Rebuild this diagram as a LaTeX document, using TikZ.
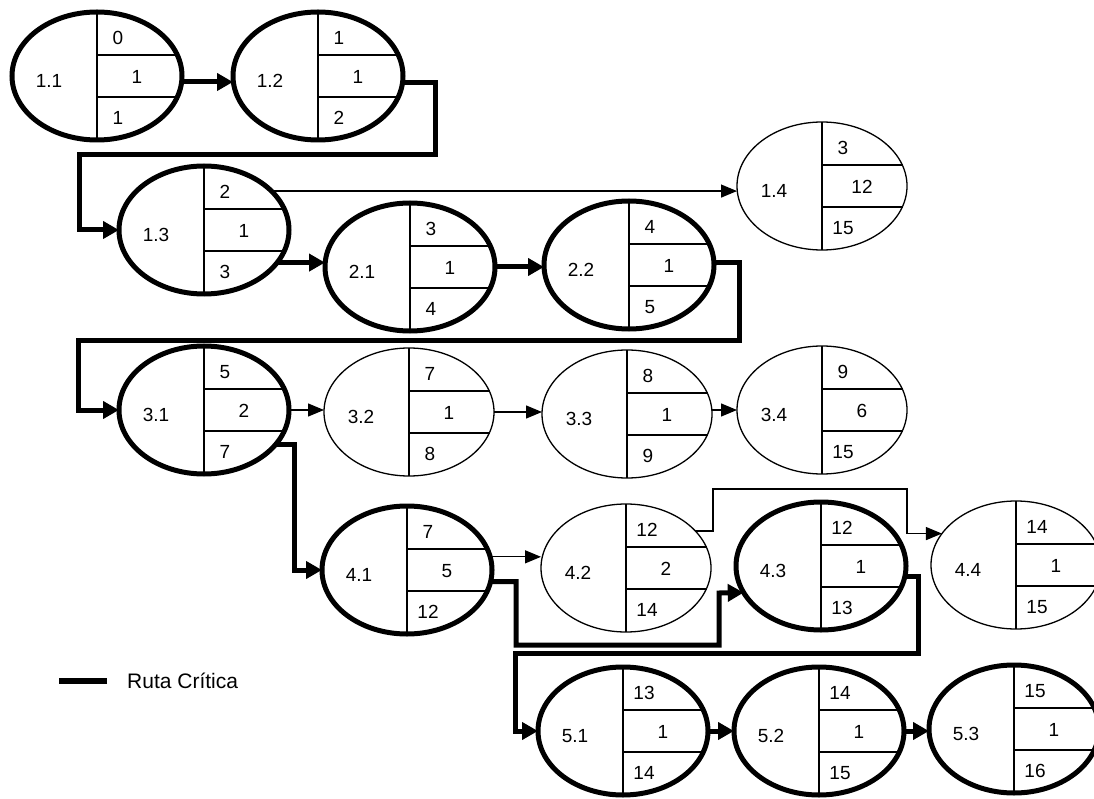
\documentclass[tikz,border=0pt]{standalone}
\usepackage{fontspec}
\setmainfont{Liberation Sans}
\usetikzlibrary{shapes.geometric, arrows.meta}

% actividad: nombre, estilo, x, y, etiqueta, inicio, duracion, fin
\newcommand{\actividad}[8]{%
  \node[#2] (#1) at (#3,#4) {};
  \draw[division] (#1.north) -- (#1.south);
  \draw[division] (#3,#4-21) -- (#3+81,#4-21);
  \draw[division] (#3,#4+21) -- (#3+81,#4+21);
  \node[texto] (#1l) at (#3-48,#4+5) {#5};
  \node[texto] (#1a) at (#3+21,#4-38) {#6};
  \node[texto] (#1b) at (#3+40,#4+1) {#7};
  \node[texto] (#1c) at (#3+21,#4+42) {#8};
}

\begin{document}
\begin{tikzpicture}[x=1pt, y=-1pt,
    critica/.style={draw, ellipse, line width=5pt, minimum width=170pt, minimum height=128pt, inner sep=0pt, outer sep=0pt},
    normal/.style={critica, line width=1.3pt},
    division/.style={line width=1.3pt},
    texto/.style={font=\fontsize{19}{22}\selectfont, inner sep=0pt},
    ruta/.style={line width=5pt, -{Triangle[length=16pt,width=17pt]}},
    flecha/.style={line width=1.3pt, -{Triangle[length=16pt,width=13pt]}}]
\useasboundingbox (0,0) rectangle (1094,799);

\actividad{n11}{critica}{97}{76}{1.1}{0}{1}{1}
\actividad{n12}{critica}{318}{76}{1.2}{1}{1}{2}
\actividad{n13}{critica}{204}{230}{1.3}{2}{1}{3}
\actividad{n14}{normal}{822}{186}{1.4}{3}{12}{15}
\actividad{n21}{critica}{410}{267}{2.1}{3}{1}{4}
\actividad{n22}{critica}{629}{265}{2.2}{4}{1}{5}
\actividad{n31}{critica}{204}{410}{3.1}{5}{2}{7}
\actividad{n32}{normal}{409}{412}{3.2}{7}{1}{8}
\actividad{n33}{normal}{627}{414}{3.3}{8}{1}{9}
\actividad{n34}{normal}{822}{410}{3.4}{9}{6}{15}
\actividad{n41}{critica}{407}{570}{4.1}{7}{5}{12}
\actividad{n42}{normal}{626}{568}{4.2}{12}{2}{14}
\actividad{n43}{critica}{821}{566}{4.3}{12}{1}{13}
\actividad{n44}{normal}{1016}{565}{4.4}{14}{1}{15}
\actividad{n51}{critica}{623}{731}{5.1}{13}{1}{14}
\actividad{n52}{critica}{819}{731}{5.2}{14}{1}{15}
\actividad{n53}{critica}{1014}{729}{5.3}{15}{1}{16}

% ruta critica
\draw[ruta] ([yshift=-6pt]n11.east) -- ([yshift=-6pt]n12.west);
\draw[ruta] ([yshift=-7pt]n12.east) -| (435,155) -| (79,230) -- (n13.west);
\draw[ruta] (n13.-24) -- (n13.-24 -| n21.west);
\draw[ruta] (n21.east) -- (n21.east -| n22.west);
\draw[ruta] ([yshift=2pt]n22.east) -| (739,340) -| (78,410) -- (n31.west);
\draw[ruta] (n31.-26) -| (294,570) -- (n41.west);
\draw[ruta] (n41.-8) -| (516,645) -| (719,593) -- (n43.199);
\draw[ruta] (n43.-7) -| (918,653) -| (515,731) -- (n51.west);
\draw[ruta] (n51.east) -- (n52.west);
\draw[ruta] (n52.east) -- (n52.east -| n53.west);

% resto
\draw[flecha] (n13.30) -- (n13.30 -| n14.west);
\draw[flecha] (n31.east) -- (n31.east -| n32.west);
\draw[flecha] (n32.east) -- (n32.east -| n33.west);
\draw[flecha] (n34.west -| n33.east) -- (n34.west);
\draw[flecha] (n41.9) -- (n41.9 -| n42.west);
\draw[flecha] (n42.28) -| (713,489) -- (907,489) |- (n44.157);

% leyenda
\node[texto, font=\fontsize{21}{24}\selectfont, anchor=west] (leyenda) at (127,681) {Ruta Crítica};
\draw[line width=6pt] ([xshift=-20pt]leyenda.west) -- ++(-48,0);
\end{tikzpicture}
\end{document}
